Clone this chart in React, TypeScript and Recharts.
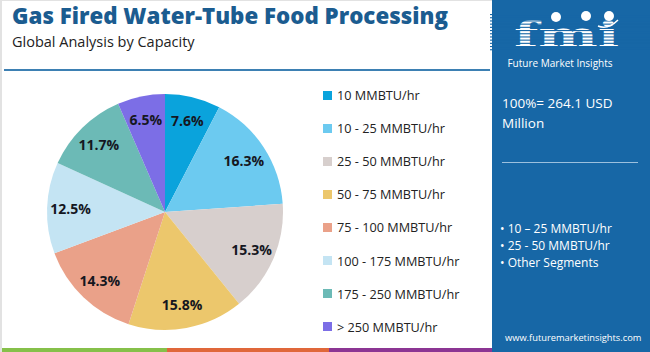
import React from "react";
import { PieChart, Pie, Cell } from "recharts";

const categories = [
  "10 MMBTU/hr",
  "10 - 25 MMBTU/hr",
  "25 - 50 MMBTU/hr",
  "50 - 75 MMBTU/hr",
  "75 - 100 MMBTU/hr",
  "100 - 175 MMBTU/hr",
  "175 - 250 MMBTU/hr",
  "> 250 MMBTU/hr",
];
const shares = [7.6, 16.3, 15.3, 15.8, 14.3, 12.5, 11.7, 6.5];
const colors = ["#0aa3dc", "#6ccaf0", "#d7cfcd", "#ecc76c", "#eaa189", "#c4e4f3", "#6cbab6", "#7c6ee6"];
const highlights = ["10 – 25 MMBTU/hr", "25 - 50 MMBTU/hr", "Other Segments"];
const totalText = "100%= 264.1 USD";
const totalUnit = "Million";

const data = categories.map((name, i) => ({ name, value: shares[i] }));

const PANEL = "#1767a6";
const FONT = "'Open Sans', 'Noto Sans', sans-serif";

const RAD = Math.PI / 180;
const renderLabel = (p: any) => {
  const { cx, cy, midAngle, outerRadius, value } = p;
  const r = outerRadius * 0.8;
  const x = cx + r * Math.cos(-midAngle * RAD);
  const y = cy + r * Math.sin(-midAngle * RAD);
  return (
    <text
      x={x}
      y={y}
      fill="#15171f"
      textAnchor="middle"
      dominantBaseline="central"
      fontFamily={FONT}
      fontWeight={700}
      fontSize={14}
    >
      {value.toFixed(1)}%
    </text>
  );
};

function Logo() {
  const stripes = [];
  for (let y = 14; y < 52; y += 3.2) {
    stripes.push(<rect key={y} x={0} y={y} width={160} height={1.1} fill={PANEL} />);
  }
  return (
    <svg width={160} height={72} style={{ position: "absolute", left: 490, top: 0 }}>
      <text x={24} y={47} fill="#fff" fontFamily="'DejaVu Serif', serif" fontWeight={700} fontSize={36} textLength={105} lengthAdjust="spacingAndGlyphs">
        fmi
      </text>
      {stripes}
      <circle cx={66} cy={17} r={5} fill="#fff" />
      <circle cx={96} cy={16} r={5} fill="#fff" />
      <circle cx={119} cy={16} r={5} fill="#fff" />
      <path d="M108 26 Q118 30 128 20" stroke="#fff" strokeWidth={1.5} fill="none" />
      <text x={70} y={67} fill="#fff" fontFamily={FONT} fontSize={10} textAnchor="middle">
        Future Market Insights
      </text>
    </svg>
  );
}

export default function App() {
  return (
    <div
      style={{
        position: "fixed",
        left: 0,
        top: 0,
        width: 650,
        height: 352,
        background: "#fff",
        overflow: "hidden",
        fontFamily: FONT,
      }}
    >
      <div style={{ position: "absolute", left: 0, top: 0, width: 650, height: 1, background: "#e2e2e2" }} />
      <div style={{ position: "absolute", left: 0, top: 0, width: 2, height: 352, background: "#e2e2e2" }} />
      <div style={{ position: "absolute", left: 12, top: 3, fontSize: 22.3, lineHeight: "25px", fontWeight: 800, color: "#1b5c90", whiteSpace: "nowrap" }}>
        Gas Fired Water-Tube Food Processing
      </div>
      <div style={{ position: "absolute", left: 12, top: 33, fontSize: 14.5, lineHeight: "18px", color: "#222", whiteSpace: "nowrap" }}>
        Global Analysis by Capacity
      </div>
      <div style={{ position: "absolute", left: 4, top: 69, width: 486, height: 2, background: "#3d80b3" }} />

      <div style={{ position: "absolute", left: 0, top: 0 }}>
        <PieChart width={320} height={352}>
          <Pie
            data={data}
            dataKey="value"
            nameKey="name"
            cx={160}
            cy={207}
            outerRadius={118}
            startAngle={90}
            endAngle={-270}
            stroke="none"
            label={renderLabel}
            labelLine={false}
            isAnimationActive={false}
          >
            {data.map((d, i) => (
              <Cell key={d.name} fill={colors[i]} />
            ))}
          </Pie>
        </PieChart>
      </div>

      {categories.map((c, i) => (
        <div
          key={c}
          style={{
            position: "absolute",
            left: 323,
            top: 95 + i * 33.1 - 9,
            height: 18,
            display: "flex",
            alignItems: "center",
            fontSize: 12.7,
            color: "#222",
            whiteSpace: "nowrap",
          }}
        >
          <span style={{ display: "inline-block", width: 9, height: 9, background: colors[i], marginRight: 5 }} />
          {c}
        </div>
      ))}

      <div style={{ position: "absolute", left: 2, top: 348, width: 165, height: 4, background: "#86c04a" }} />
      <div style={{ position: "absolute", left: 167, top: 348, width: 162, height: 4, background: "#e0673a" }} />
      <div style={{ position: "absolute", left: 329, top: 348, width: 163, height: 4, background: "#8c3593" }} />

      <div style={{ position: "absolute", left: 492, top: 0, width: 158, height: 352, background: PANEL }} />
      <Logo />
      <div style={{ position: "absolute", left: 502, top: 93, fontSize: 13.5, color: "#fff", lineHeight: "20px", whiteSpace: "nowrap" }}>
        {totalText}
        <br />
        {totalUnit}
      </div>
      <div style={{ position: "absolute", left: 502, top: 162, width: 136, height: 1, background: "#9cc0de" }} />
      <div style={{ position: "absolute", left: 500, top: 220, fontSize: 12, color: "#fff", lineHeight: "17px", whiteSpace: "nowrap" }}>
        {highlights.map((h) => (
          <div key={h}>• {h}</div>
        ))}
      </div>
      <div style={{ position: "absolute", left: 505, top: 331, fontSize: 9.3, color: "#fff", whiteSpace: "nowrap" }}>
        www.futuremarketinsights.com
      </div>
    </div>
  );
}
